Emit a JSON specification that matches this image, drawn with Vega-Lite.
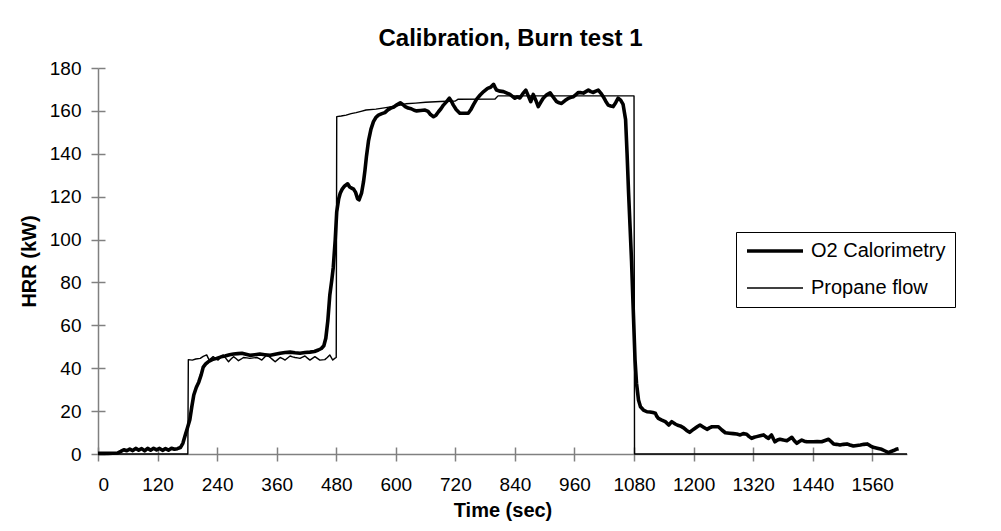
{
  "$schema": "https://vega.github.io/schema/vega-lite/v6.json",
  "autosize": {"type": "none"},
  "padding": {"left": 98, "top": 68, "right": 94, "bottom": 77},
  "width": 809,
  "height": 386,
  "background": "white",
  "title": {
    "text": "Calibration, Burn test 1",
    "font": "Liberation Sans",
    "fontSize": 24,
    "fontWeight": "bold",
    "color": "black",
    "anchor": "middle",
    "frame": "group",
    "dx": 8,
    "offset": 8
  },
  "config": {
    "view": {"stroke": null},
    "axis": {
      "labelFont": "Liberation Sans",
      "titleFont": "Liberation Sans",
      "labelColor": "black",
      "titleColor": "black",
      "labelFontSize": 19,
      "titleFontSize": 20,
      "titleFontWeight": "bold",
      "domainColor": "#808080",
      "tickColor": "#808080",
      "domainWidth": 1.5,
      "tickWidth": 1.5,
      "tickSize": 7,
      "grid": false
    }
  },
  "data": {
    "values": [
      {"t": 0, "v": 0.3, "s": "O2 Calorimetry"},
      {"t": 20, "v": 0.3, "s": "O2 Calorimetry"},
      {"t": 40, "v": 0.5, "s": "O2 Calorimetry"},
      {"t": 46, "v": 1.2, "s": "O2 Calorimetry"},
      {"t": 52, "v": 2, "s": "O2 Calorimetry"},
      {"t": 58, "v": 1.5, "s": "O2 Calorimetry"},
      {"t": 64, "v": 2.3, "s": "O2 Calorimetry"},
      {"t": 70, "v": 1.6, "s": "O2 Calorimetry"},
      {"t": 76, "v": 2.6, "s": "O2 Calorimetry"},
      {"t": 82, "v": 1.8, "s": "O2 Calorimetry"},
      {"t": 88, "v": 2.5, "s": "O2 Calorimetry"},
      {"t": 94, "v": 1.5, "s": "O2 Calorimetry"},
      {"t": 100, "v": 2.6, "s": "O2 Calorimetry"},
      {"t": 106, "v": 1.8, "s": "O2 Calorimetry"},
      {"t": 112, "v": 2.7, "s": "O2 Calorimetry"},
      {"t": 118, "v": 1.9, "s": "O2 Calorimetry"},
      {"t": 124, "v": 2.6, "s": "O2 Calorimetry"},
      {"t": 130, "v": 1.7, "s": "O2 Calorimetry"},
      {"t": 136, "v": 2.5, "s": "O2 Calorimetry"},
      {"t": 142, "v": 1.8, "s": "O2 Calorimetry"},
      {"t": 148, "v": 2.7, "s": "O2 Calorimetry"},
      {"t": 154, "v": 2.2, "s": "O2 Calorimetry"},
      {"t": 160, "v": 2.5, "s": "O2 Calorimetry"},
      {"t": 166, "v": 3, "s": "O2 Calorimetry"},
      {"t": 171, "v": 5, "s": "O2 Calorimetry"},
      {"t": 176, "v": 9, "s": "O2 Calorimetry"},
      {"t": 180, "v": 12, "s": "O2 Calorimetry"},
      {"t": 185, "v": 16, "s": "O2 Calorimetry"},
      {"t": 189, "v": 22, "s": "O2 Calorimetry"},
      {"t": 193, "v": 27.5, "s": "O2 Calorimetry"},
      {"t": 198, "v": 31, "s": "O2 Calorimetry"},
      {"t": 203, "v": 33.5, "s": "O2 Calorimetry"},
      {"t": 208, "v": 37, "s": "O2 Calorimetry"},
      {"t": 212, "v": 40.5, "s": "O2 Calorimetry"},
      {"t": 217, "v": 42, "s": "O2 Calorimetry"},
      {"t": 222, "v": 43, "s": "O2 Calorimetry"},
      {"t": 230, "v": 44, "s": "O2 Calorimetry"},
      {"t": 239, "v": 44.6, "s": "O2 Calorimetry"},
      {"t": 248, "v": 45.3, "s": "O2 Calorimetry"},
      {"t": 256, "v": 45.7, "s": "O2 Calorimetry"},
      {"t": 265, "v": 46.3, "s": "O2 Calorimetry"},
      {"t": 273, "v": 46.6, "s": "O2 Calorimetry"},
      {"t": 282, "v": 46.8, "s": "O2 Calorimetry"},
      {"t": 290, "v": 47, "s": "O2 Calorimetry"},
      {"t": 298, "v": 46.5, "s": "O2 Calorimetry"},
      {"t": 306, "v": 46, "s": "O2 Calorimetry"},
      {"t": 316, "v": 46.3, "s": "O2 Calorimetry"},
      {"t": 326, "v": 46.6, "s": "O2 Calorimetry"},
      {"t": 336, "v": 46.3, "s": "O2 Calorimetry"},
      {"t": 347, "v": 46, "s": "O2 Calorimetry"},
      {"t": 357, "v": 46.5, "s": "O2 Calorimetry"},
      {"t": 367, "v": 47, "s": "O2 Calorimetry"},
      {"t": 377, "v": 47.3, "s": "O2 Calorimetry"},
      {"t": 387, "v": 47.5, "s": "O2 Calorimetry"},
      {"t": 397, "v": 47.2, "s": "O2 Calorimetry"},
      {"t": 407, "v": 47, "s": "O2 Calorimetry"},
      {"t": 417, "v": 47.3, "s": "O2 Calorimetry"},
      {"t": 427, "v": 47.5, "s": "O2 Calorimetry"},
      {"t": 436, "v": 47.8, "s": "O2 Calorimetry"},
      {"t": 444, "v": 48.5, "s": "O2 Calorimetry"},
      {"t": 450, "v": 49.2, "s": "O2 Calorimetry"},
      {"t": 455, "v": 50.5, "s": "O2 Calorimetry"},
      {"t": 459, "v": 54, "s": "O2 Calorimetry"},
      {"t": 463, "v": 62, "s": "O2 Calorimetry"},
      {"t": 467, "v": 74, "s": "O2 Calorimetry"},
      {"t": 471, "v": 81, "s": "O2 Calorimetry"},
      {"t": 474, "v": 87, "s": "O2 Calorimetry"},
      {"t": 478, "v": 100, "s": "O2 Calorimetry"},
      {"t": 481, "v": 113, "s": "O2 Calorimetry"},
      {"t": 485, "v": 119, "s": "O2 Calorimetry"},
      {"t": 488, "v": 121.6, "s": "O2 Calorimetry"},
      {"t": 492, "v": 123.5, "s": "O2 Calorimetry"},
      {"t": 497, "v": 125, "s": "O2 Calorimetry"},
      {"t": 503, "v": 126, "s": "O2 Calorimetry"},
      {"t": 507, "v": 124.5, "s": "O2 Calorimetry"},
      {"t": 511, "v": 124, "s": "O2 Calorimetry"},
      {"t": 515, "v": 123.5, "s": "O2 Calorimetry"},
      {"t": 519, "v": 122, "s": "O2 Calorimetry"},
      {"t": 523, "v": 119, "s": "O2 Calorimetry"},
      {"t": 526, "v": 118.5, "s": "O2 Calorimetry"},
      {"t": 531, "v": 121.6, "s": "O2 Calorimetry"},
      {"t": 535, "v": 127, "s": "O2 Calorimetry"},
      {"t": 538, "v": 132.5, "s": "O2 Calorimetry"},
      {"t": 541, "v": 139, "s": "O2 Calorimetry"},
      {"t": 545, "v": 146, "s": "O2 Calorimetry"},
      {"t": 550, "v": 151.5, "s": "O2 Calorimetry"},
      {"t": 555, "v": 155, "s": "O2 Calorimetry"},
      {"t": 560, "v": 157, "s": "O2 Calorimetry"},
      {"t": 565, "v": 158, "s": "O2 Calorimetry"},
      {"t": 572, "v": 158.7, "s": "O2 Calorimetry"},
      {"t": 578, "v": 159.2, "s": "O2 Calorimetry"},
      {"t": 584, "v": 160.5, "s": "O2 Calorimetry"},
      {"t": 590, "v": 161.3, "s": "O2 Calorimetry"},
      {"t": 596, "v": 161.8, "s": "O2 Calorimetry"},
      {"t": 603, "v": 163, "s": "O2 Calorimetry"},
      {"t": 609, "v": 163.8, "s": "O2 Calorimetry"},
      {"t": 614, "v": 163, "s": "O2 Calorimetry"},
      {"t": 619, "v": 162, "s": "O2 Calorimetry"},
      {"t": 625, "v": 161.3, "s": "O2 Calorimetry"},
      {"t": 631, "v": 161, "s": "O2 Calorimetry"},
      {"t": 637, "v": 160.3, "s": "O2 Calorimetry"},
      {"t": 642, "v": 160, "s": "O2 Calorimetry"},
      {"t": 650, "v": 160.2, "s": "O2 Calorimetry"},
      {"t": 659, "v": 160.4, "s": "O2 Calorimetry"},
      {"t": 665, "v": 159.8, "s": "O2 Calorimetry"},
      {"t": 670, "v": 158.3, "s": "O2 Calorimetry"},
      {"t": 676, "v": 157.3, "s": "O2 Calorimetry"},
      {"t": 681, "v": 158, "s": "O2 Calorimetry"},
      {"t": 686, "v": 159.6, "s": "O2 Calorimetry"},
      {"t": 691, "v": 161, "s": "O2 Calorimetry"},
      {"t": 696, "v": 162.7, "s": "O2 Calorimetry"},
      {"t": 702, "v": 164.2, "s": "O2 Calorimetry"},
      {"t": 708, "v": 165.9, "s": "O2 Calorimetry"},
      {"t": 712, "v": 164.5, "s": "O2 Calorimetry"},
      {"t": 716, "v": 162.7, "s": "O2 Calorimetry"},
      {"t": 722, "v": 160.5, "s": "O2 Calorimetry"},
      {"t": 729, "v": 158.9, "s": "O2 Calorimetry"},
      {"t": 737, "v": 158.9, "s": "O2 Calorimetry"},
      {"t": 746, "v": 158.9, "s": "O2 Calorimetry"},
      {"t": 751, "v": 160.5, "s": "O2 Calorimetry"},
      {"t": 756, "v": 162.7, "s": "O2 Calorimetry"},
      {"t": 763, "v": 165.5, "s": "O2 Calorimetry"},
      {"t": 770, "v": 167.4, "s": "O2 Calorimetry"},
      {"t": 777, "v": 169, "s": "O2 Calorimetry"},
      {"t": 785, "v": 170.5, "s": "O2 Calorimetry"},
      {"t": 791, "v": 171, "s": "O2 Calorimetry"},
      {"t": 797, "v": 172.4, "s": "O2 Calorimetry"},
      {"t": 800, "v": 171, "s": "O2 Calorimetry"},
      {"t": 803, "v": 169.7, "s": "O2 Calorimetry"},
      {"t": 810, "v": 169.2, "s": "O2 Calorimetry"},
      {"t": 817, "v": 169, "s": "O2 Calorimetry"},
      {"t": 824, "v": 168.3, "s": "O2 Calorimetry"},
      {"t": 830, "v": 167.7, "s": "O2 Calorimetry"},
      {"t": 835, "v": 166.8, "s": "O2 Calorimetry"},
      {"t": 840, "v": 165.9, "s": "O2 Calorimetry"},
      {"t": 845, "v": 166.5, "s": "O2 Calorimetry"},
      {"t": 850, "v": 166, "s": "O2 Calorimetry"},
      {"t": 856, "v": 168, "s": "O2 Calorimetry"},
      {"t": 862, "v": 169.7, "s": "O2 Calorimetry"},
      {"t": 867, "v": 167, "s": "O2 Calorimetry"},
      {"t": 872, "v": 164.3, "s": "O2 Calorimetry"},
      {"t": 877, "v": 167.7, "s": "O2 Calorimetry"},
      {"t": 882, "v": 165, "s": "O2 Calorimetry"},
      {"t": 887, "v": 162, "s": "O2 Calorimetry"},
      {"t": 892, "v": 164, "s": "O2 Calorimetry"},
      {"t": 897, "v": 165.9, "s": "O2 Calorimetry"},
      {"t": 904, "v": 167.5, "s": "O2 Calorimetry"},
      {"t": 911, "v": 168.4, "s": "O2 Calorimetry"},
      {"t": 917, "v": 166.5, "s": "O2 Calorimetry"},
      {"t": 924, "v": 164.3, "s": "O2 Calorimetry"},
      {"t": 929, "v": 163.8, "s": "O2 Calorimetry"},
      {"t": 934, "v": 163.5, "s": "O2 Calorimetry"},
      {"t": 941, "v": 164.8, "s": "O2 Calorimetry"},
      {"t": 948, "v": 165.9, "s": "O2 Calorimetry"},
      {"t": 953, "v": 166.3, "s": "O2 Calorimetry"},
      {"t": 958, "v": 166.6, "s": "O2 Calorimetry"},
      {"t": 963, "v": 167.6, "s": "O2 Calorimetry"},
      {"t": 968, "v": 168.6, "s": "O2 Calorimetry"},
      {"t": 973, "v": 168.5, "s": "O2 Calorimetry"},
      {"t": 978, "v": 168.3, "s": "O2 Calorimetry"},
      {"t": 983, "v": 169, "s": "O2 Calorimetry"},
      {"t": 988, "v": 169.7, "s": "O2 Calorimetry"},
      {"t": 993, "v": 169, "s": "O2 Calorimetry"},
      {"t": 998, "v": 168.6, "s": "O2 Calorimetry"},
      {"t": 1003, "v": 169.2, "s": "O2 Calorimetry"},
      {"t": 1008, "v": 169.7, "s": "O2 Calorimetry"},
      {"t": 1013, "v": 168.3, "s": "O2 Calorimetry"},
      {"t": 1018, "v": 166.6, "s": "O2 Calorimetry"},
      {"t": 1023, "v": 164.5, "s": "O2 Calorimetry"},
      {"t": 1028, "v": 162.7, "s": "O2 Calorimetry"},
      {"t": 1033, "v": 162.3, "s": "O2 Calorimetry"},
      {"t": 1038, "v": 162, "s": "O2 Calorimetry"},
      {"t": 1043, "v": 163.8, "s": "O2 Calorimetry"},
      {"t": 1048, "v": 165.9, "s": "O2 Calorimetry"},
      {"t": 1053, "v": 165, "s": "O2 Calorimetry"},
      {"t": 1058, "v": 163, "s": "O2 Calorimetry"},
      {"t": 1063, "v": 156, "s": "O2 Calorimetry"},
      {"t": 1066, "v": 140, "s": "O2 Calorimetry"},
      {"t": 1069, "v": 122, "s": "O2 Calorimetry"},
      {"t": 1072, "v": 106, "s": "O2 Calorimetry"},
      {"t": 1075, "v": 90, "s": "O2 Calorimetry"},
      {"t": 1078, "v": 70, "s": "O2 Calorimetry"},
      {"t": 1082, "v": 44, "s": "O2 Calorimetry"},
      {"t": 1085, "v": 33, "s": "O2 Calorimetry"},
      {"t": 1089, "v": 25.2, "s": "O2 Calorimetry"},
      {"t": 1093, "v": 22, "s": "O2 Calorimetry"},
      {"t": 1099, "v": 20.5, "s": "O2 Calorimetry"},
      {"t": 1106, "v": 19.7, "s": "O2 Calorimetry"},
      {"t": 1112, "v": 19.6, "s": "O2 Calorimetry"},
      {"t": 1118, "v": 19.3, "s": "O2 Calorimetry"},
      {"t": 1123, "v": 19, "s": "O2 Calorimetry"},
      {"t": 1126, "v": 17.5, "s": "O2 Calorimetry"},
      {"t": 1129, "v": 16.6, "s": "O2 Calorimetry"},
      {"t": 1136, "v": 15.8, "s": "O2 Calorimetry"},
      {"t": 1143, "v": 15.1, "s": "O2 Calorimetry"},
      {"t": 1150, "v": 13.5, "s": "O2 Calorimetry"},
      {"t": 1156, "v": 15.1, "s": "O2 Calorimetry"},
      {"t": 1163, "v": 14, "s": "O2 Calorimetry"},
      {"t": 1168, "v": 13.4, "s": "O2 Calorimetry"},
      {"t": 1173, "v": 13.1, "s": "O2 Calorimetry"},
      {"t": 1180, "v": 12.2, "s": "O2 Calorimetry"},
      {"t": 1186, "v": 11, "s": "O2 Calorimetry"},
      {"t": 1192, "v": 10.1, "s": "O2 Calorimetry"},
      {"t": 1197, "v": 11, "s": "O2 Calorimetry"},
      {"t": 1203, "v": 12, "s": "O2 Calorimetry"},
      {"t": 1208, "v": 12.8, "s": "O2 Calorimetry"},
      {"t": 1213, "v": 13.5, "s": "O2 Calorimetry"},
      {"t": 1220, "v": 12.5, "s": "O2 Calorimetry"},
      {"t": 1227, "v": 11.5, "s": "O2 Calorimetry"},
      {"t": 1232, "v": 12.2, "s": "O2 Calorimetry"},
      {"t": 1237, "v": 12.7, "s": "O2 Calorimetry"},
      {"t": 1243, "v": 12.7, "s": "O2 Calorimetry"},
      {"t": 1250, "v": 12.7, "s": "O2 Calorimetry"},
      {"t": 1257, "v": 11.2, "s": "O2 Calorimetry"},
      {"t": 1264, "v": 9.9, "s": "O2 Calorimetry"},
      {"t": 1272, "v": 9.7, "s": "O2 Calorimetry"},
      {"t": 1280, "v": 9.5, "s": "O2 Calorimetry"},
      {"t": 1287, "v": 9.3, "s": "O2 Calorimetry"},
      {"t": 1294, "v": 8.9, "s": "O2 Calorimetry"},
      {"t": 1300, "v": 9.5, "s": "O2 Calorimetry"},
      {"t": 1307, "v": 9.2, "s": "O2 Calorimetry"},
      {"t": 1312, "v": 8.1, "s": "O2 Calorimetry"},
      {"t": 1317, "v": 7.3, "s": "O2 Calorimetry"},
      {"t": 1322, "v": 7.8, "s": "O2 Calorimetry"},
      {"t": 1327, "v": 8.1, "s": "O2 Calorimetry"},
      {"t": 1334, "v": 8.5, "s": "O2 Calorimetry"},
      {"t": 1341, "v": 8.9, "s": "O2 Calorimetry"},
      {"t": 1346, "v": 8, "s": "O2 Calorimetry"},
      {"t": 1351, "v": 7.3, "s": "O2 Calorimetry"},
      {"t": 1354, "v": 8.2, "s": "O2 Calorimetry"},
      {"t": 1357, "v": 8.9, "s": "O2 Calorimetry"},
      {"t": 1361, "v": 7, "s": "O2 Calorimetry"},
      {"t": 1364, "v": 5.7, "s": "O2 Calorimetry"},
      {"t": 1369, "v": 6.5, "s": "O2 Calorimetry"},
      {"t": 1374, "v": 6.9, "s": "O2 Calorimetry"},
      {"t": 1381, "v": 6.5, "s": "O2 Calorimetry"},
      {"t": 1388, "v": 6.2, "s": "O2 Calorimetry"},
      {"t": 1393, "v": 7, "s": "O2 Calorimetry"},
      {"t": 1398, "v": 7.8, "s": "O2 Calorimetry"},
      {"t": 1403, "v": 6.2, "s": "O2 Calorimetry"},
      {"t": 1408, "v": 5, "s": "O2 Calorimetry"},
      {"t": 1413, "v": 5.8, "s": "O2 Calorimetry"},
      {"t": 1418, "v": 6.5, "s": "O2 Calorimetry"},
      {"t": 1423, "v": 6, "s": "O2 Calorimetry"},
      {"t": 1428, "v": 5.7, "s": "O2 Calorimetry"},
      {"t": 1435, "v": 5.7, "s": "O2 Calorimetry"},
      {"t": 1441, "v": 5.7, "s": "O2 Calorimetry"},
      {"t": 1449, "v": 5.8, "s": "O2 Calorimetry"},
      {"t": 1458, "v": 5.7, "s": "O2 Calorimetry"},
      {"t": 1465, "v": 6.3, "s": "O2 Calorimetry"},
      {"t": 1472, "v": 6.9, "s": "O2 Calorimetry"},
      {"t": 1477, "v": 5.8, "s": "O2 Calorimetry"},
      {"t": 1482, "v": 4.7, "s": "O2 Calorimetry"},
      {"t": 1488, "v": 4.5, "s": "O2 Calorimetry"},
      {"t": 1495, "v": 4.2, "s": "O2 Calorimetry"},
      {"t": 1502, "v": 4.5, "s": "O2 Calorimetry"},
      {"t": 1509, "v": 4.7, "s": "O2 Calorimetry"},
      {"t": 1515, "v": 4.2, "s": "O2 Calorimetry"},
      {"t": 1522, "v": 3.7, "s": "O2 Calorimetry"},
      {"t": 1529, "v": 4, "s": "O2 Calorimetry"},
      {"t": 1536, "v": 4.2, "s": "O2 Calorimetry"},
      {"t": 1543, "v": 4.5, "s": "O2 Calorimetry"},
      {"t": 1550, "v": 4.7, "s": "O2 Calorimetry"},
      {"t": 1556, "v": 3.8, "s": "O2 Calorimetry"},
      {"t": 1562, "v": 3.1, "s": "O2 Calorimetry"},
      {"t": 1570, "v": 2.7, "s": "O2 Calorimetry"},
      {"t": 1579, "v": 2.2, "s": "O2 Calorimetry"},
      {"t": 1586, "v": 1.4, "s": "O2 Calorimetry"},
      {"t": 1593, "v": 0.6, "s": "O2 Calorimetry"},
      {"t": 1598, "v": 1.2, "s": "O2 Calorimetry"},
      {"t": 1603, "v": 1.6, "s": "O2 Calorimetry"},
      {"t": 1608, "v": 2.2, "s": "O2 Calorimetry"},
      {"t": 1613, "v": 2.5, "s": "O2 Calorimetry"},
      {"t": 0, "v": 0, "s": "Propane flow"},
      {"t": 181, "v": 0, "s": "Propane flow"},
      {"t": 182, "v": 44, "s": "Propane flow"},
      {"t": 190, "v": 43.8, "s": "Propane flow"},
      {"t": 197, "v": 44.3, "s": "Propane flow"},
      {"t": 206, "v": 44.6, "s": "Propane flow"},
      {"t": 212, "v": 45.5, "s": "Propane flow"},
      {"t": 219, "v": 46.2, "s": "Propane flow"},
      {"t": 224, "v": 43.8, "s": "Propane flow"},
      {"t": 232, "v": 45.4, "s": "Propane flow"},
      {"t": 237, "v": 44.5, "s": "Propane flow"},
      {"t": 242, "v": 43.8, "s": "Propane flow"},
      {"t": 247, "v": 45, "s": "Propane flow"},
      {"t": 252, "v": 46.2, "s": "Propane flow"},
      {"t": 258, "v": 44.5, "s": "Propane flow"},
      {"t": 263, "v": 43, "s": "Propane flow"},
      {"t": 268, "v": 44.3, "s": "Propane flow"},
      {"t": 273, "v": 45.4, "s": "Propane flow"},
      {"t": 278, "v": 44.5, "s": "Propane flow"},
      {"t": 283, "v": 43.5, "s": "Propane flow"},
      {"t": 288, "v": 44.2, "s": "Propane flow"},
      {"t": 293, "v": 45, "s": "Propane flow"},
      {"t": 300, "v": 44.8, "s": "Propane flow"},
      {"t": 306, "v": 44.6, "s": "Propane flow"},
      {"t": 313, "v": 44.8, "s": "Propane flow"},
      {"t": 320, "v": 45, "s": "Propane flow"},
      {"t": 325, "v": 44.5, "s": "Propane flow"},
      {"t": 330, "v": 43.8, "s": "Propane flow"},
      {"t": 335, "v": 45, "s": "Propane flow"},
      {"t": 340, "v": 46.2, "s": "Propane flow"},
      {"t": 347, "v": 45, "s": "Propane flow"},
      {"t": 352, "v": 44, "s": "Propane flow"},
      {"t": 357, "v": 43, "s": "Propane flow"},
      {"t": 362, "v": 44, "s": "Propane flow"},
      {"t": 367, "v": 45, "s": "Propane flow"},
      {"t": 372, "v": 44.5, "s": "Propane flow"},
      {"t": 377, "v": 43.8, "s": "Propane flow"},
      {"t": 382, "v": 44.8, "s": "Propane flow"},
      {"t": 387, "v": 45.7, "s": "Propane flow"},
      {"t": 392, "v": 45.3, "s": "Propane flow"},
      {"t": 397, "v": 45, "s": "Propane flow"},
      {"t": 402, "v": 44.8, "s": "Propane flow"},
      {"t": 407, "v": 44.6, "s": "Propane flow"},
      {"t": 412, "v": 45.2, "s": "Propane flow"},
      {"t": 417, "v": 45.7, "s": "Propane flow"},
      {"t": 422, "v": 44.7, "s": "Propane flow"},
      {"t": 427, "v": 43.8, "s": "Propane flow"},
      {"t": 432, "v": 44.6, "s": "Propane flow"},
      {"t": 437, "v": 45.4, "s": "Propane flow"},
      {"t": 442, "v": 44.6, "s": "Propane flow"},
      {"t": 447, "v": 43.8, "s": "Propane flow"},
      {"t": 452, "v": 43.9, "s": "Propane flow"},
      {"t": 457, "v": 44, "s": "Propane flow"},
      {"t": 462, "v": 45, "s": "Propane flow"},
      {"t": 467, "v": 46.2, "s": "Propane flow"},
      {"t": 473, "v": 43.8, "s": "Propane flow"},
      {"t": 477, "v": 44.6, "s": "Propane flow"},
      {"t": 480, "v": 45, "s": "Propane flow"},
      {"t": 481, "v": 157.3, "s": "Propane flow"},
      {"t": 490, "v": 157.6, "s": "Propane flow"},
      {"t": 500, "v": 158, "s": "Propane flow"},
      {"t": 510, "v": 158.7, "s": "Propane flow"},
      {"t": 520, "v": 159.2, "s": "Propane flow"},
      {"t": 530, "v": 159.8, "s": "Propane flow"},
      {"t": 540, "v": 160.4, "s": "Propane flow"},
      {"t": 560, "v": 160.8, "s": "Propane flow"},
      {"t": 580, "v": 161.5, "s": "Propane flow"},
      {"t": 600, "v": 162.3, "s": "Propane flow"},
      {"t": 620, "v": 163.3, "s": "Propane flow"},
      {"t": 640, "v": 163.6, "s": "Propane flow"},
      {"t": 660, "v": 164, "s": "Propane flow"},
      {"t": 690, "v": 164.4, "s": "Propane flow"},
      {"t": 720, "v": 164.6, "s": "Propane flow"},
      {"t": 725, "v": 165.4, "s": "Propane flow"},
      {"t": 800, "v": 165.5, "s": "Propane flow"},
      {"t": 806, "v": 167, "s": "Propane flow"},
      {"t": 1080, "v": 167, "s": "Propane flow"},
      {"t": 1081, "v": 0, "s": "Propane flow"},
      {"t": 1630, "v": 0, "s": "Propane flow"}
    ]
  },
  "layer": [
    {
      "mark": {"type": "line", "color": "black", "strokeJoin": "round", "strokeCap": "butt"},
      "encoding": {
        "x": {
          "field": "t",
          "type": "quantitative",
          "scale": {"domain": [0, 1630], "nice": false},
          "axis": {
            "orient": "bottom",
            "title": "Time (sec)",
            "format": "d",
            "values": [0, 120, 240, 360, 480, 600, 720, 840, 960, 1080, 1200, 1320, 1440, 1560],
            "labelPadding": 14,
            "titlePadding": 6
          }
        },
        "y": {
          "field": "v",
          "type": "quantitative",
          "scale": {"domain": [0, 180], "nice": false},
          "axis": {
            "orient": "left",
            "title": "HRR (kW)",
            "values": [0, 20, 40, 60, 80, 100, 120, 140, 160, 180],
            "labelPadding": 10,
            "titlePadding": 10
          }
        },
        "strokeWidth": {
          "field": "s",
          "type": "nominal",
          "scale": {"domain": ["O2 Calorimetry", "Propane flow"], "range": [3.6, 1.4]},
          "legend": {
            "title": null,
            "orient": "none",
            "legendX": 638,
            "legendY": 164,
            "symbolType": "stroke",
            "symbolSize": 3136,
            "symbolStrokeColor": "black",
            "clipHeight": 20,
            "rowPadding": 17,
            "labelOffset": 6,
            "labelFont": "Liberation Sans",
            "labelFontSize": 20,
            "labelColor": "black",
            "padding": 9,
            "strokeColor": "black",
            "fillColor": "white"
          }
        }
      }
    },
    {
      "mark": {"type": "point", "opacity": 0},
      "encoding": {
        "x": {
          "field": "t",
          "type": "quantitative",
          "axis": {
            "orient": "bottom",
            "title": null,
            "labels": false,
            "domain": false,
            "tickSize": -7,
            "values": [0, 120, 240, 360, 480, 600, 720, 840, 960, 1080, 1200, 1320, 1440, 1560]
          }
        },
        "y": {
          "field": "v",
          "type": "quantitative",
          "axis": {
            "orient": "left",
            "title": null,
            "labels": false,
            "domain": false,
            "tickSize": -7,
            "values": [0, 20, 40, 60, 80, 100, 120, 140, 160, 180]
          }
        }
      }
    }
  ],
  "resolve": {"axis": {"x": "independent", "y": "independent"}}
}
